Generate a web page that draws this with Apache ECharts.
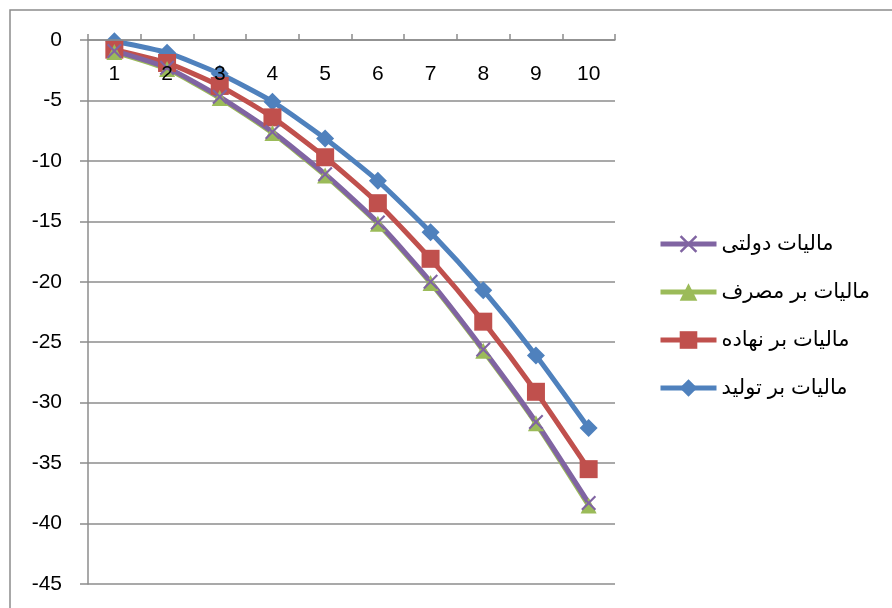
<!DOCTYPE html>
<html>
<head>
<meta charset="utf-8">
<script src="https://cdn.jsdelivr.net/npm/echarts@6/dist/echarts.min.js"></script>
<style>
  html, body { margin: 0; padding: 0; background: #fff; }
  #chart { width: 892px; height: 608px; }
</style>
</head>
<body>
<div id="chart"></div>
<script>
// Periods 1..10
const categories = ['1', '2', '3', '4', '5', '6', '7', '8', '9', '10'];

// Series values by tax type
const productionTax = [-0.1, -1.05, -2.8, -5.1, -8.15, -11.65, -15.9, -20.7, -26.1, -32.1];
const inputTax = [-0.8, -1.9, -3.8, -6.4, -9.7, -13.5, -18.1, -23.3, -29.1, -35.5];
const consumptionTax = [-1.0, -2.4, -4.8, -7.7, -11.2, -15.2, -20.1, -25.7, -31.7, -38.5];
const governmentTax = [-0.9, -2.3, -4.7, -7.6, -11.1, -15.1, -20.0, -25.6, -31.6, -38.3];

// Series names
const nameProduction = 'مالیات بر تولید';
const nameInput = 'مالیات بر نهاده';
const nameConsumption = 'مالیات بر مصرف';
const nameGovernment = 'مالیات دولتی';

const colors = {
  production: '#4F81BD',
  input: '#C0504D',
  consumption: '#9BBB59',
  government: '#8064A2'
};

const crossSymbol = 'path://M0,1 L1,0 L5,4 L9,0 L10,1 L6,5 L10,9 L9,10 L5,6 L1,10 L0,9 L4,5 Z';

const chart = echarts.init(document.getElementById('chart'), null, { renderer: 'canvas' });

function line(name, data, color, symbol, size) {
  return {
    name: name,
    type: 'line',
    data: data,
    smooth: 0.2,
    symbol: symbol,
    symbolSize: size,
    showAllSymbol: true,
    lineStyle: { color: color, width: 5 },
    itemStyle: { color: color, borderWidth: 0 }
  };
}

chart.setOption({
  animation: false,
  backgroundColor: '#ffffff',
  graphic: [{
    type: 'rect',
    shape: { x: 10, y: 10, width: 900, height: 700 },
    style: { fill: 'none', stroke: '#8c8c8c', lineWidth: 1.5 },
    silent: true,
    z: -10
  }],
  grid: { left: 88, top: 40, right: 277, bottom: 24, containLabel: false },
  legend: {
    orient: 'vertical',
    left: 653,
    top: 227,
    itemWidth: 56,
    itemHeight: 22,
    itemGap: 24,
    lineStyle: { width: 5 },
    data: [nameGovernment, nameConsumption, nameInput, nameProduction],
    textStyle: {
      fontFamily: 'Liberation Sans, DejaVu Sans, sans-serif',
      fontSize: 21,
      lineHeight: 24,
      color: '#000'
    }
  },
  xAxis: {
    type: 'category',
    data: categories,
    position: 'top',
    boundaryGap: true,
    z: 10,
    axisLine: { lineStyle: { color: '#8c8c8c', width: 1.5 } },
    axisTick: { show: true, inside: false, length: 6, lineStyle: { color: '#8c8c8c', width: 1.5 } },
    axisLabel: {
      inside: true,
      margin: 24,
      fontFamily: 'Liberation Sans, sans-serif',
      fontSize: 21,
      color: '#000'
    },
    splitLine: { show: false }
  },
  yAxis: {
    type: 'value',
    min: -45,
    max: 0,
    interval: 5,
    axisLine: { show: true, lineStyle: { color: '#8c8c8c', width: 1.5 } },
    axisTick: { show: true, length: 8, lineStyle: { color: '#8c8c8c', width: 1.5 } },
    axisLabel: {
      margin: 26,
      fontFamily: 'Liberation Sans, sans-serif',
      fontSize: 21,
      color: '#000'
    },
    splitLine: { show: true, lineStyle: { color: '#8c8c8c', width: 1.5 } }
  },
  series: [
    line(nameProduction, productionTax, colors.production, 'diamond', 18),
    line(nameInput, inputTax, colors.input, 'rect', 18),
    line(nameConsumption, consumptionTax, colors.consumption, 'triangle', 16),
    line(nameGovernment, governmentTax, colors.government, crossSymbol, 15)
  ]
});
</script>
</body>
</html>
